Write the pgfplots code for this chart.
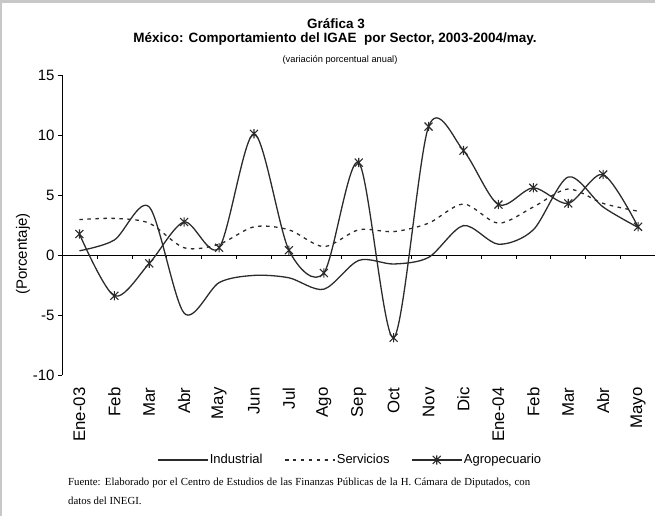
\documentclass[border=0pt]{standalone}
\usepackage{pgfplots}
\pgfplotsset{compat=1.18}
\usepackage{fontspec}
\setmainfont{Liberation Sans}
\newfontfamily\timesft{Liberation Serif}
\definecolor{linegray}{HTML}{2B2B2B}
\definecolor{framegray}{HTML}{C8C8C8}

\pgfdeclareplotmark{xstar}{%
  \pgfpathmoveto{\pgfqpoint{-\pgfplotmarksize}{-\pgfplotmarksize}}%
  \pgfpathlineto{\pgfqpoint{\pgfplotmarksize}{\pgfplotmarksize}}%
  \pgfpathmoveto{\pgfqpoint{-\pgfplotmarksize}{\pgfplotmarksize}}%
  \pgfpathlineto{\pgfqpoint{\pgfplotmarksize}{-\pgfplotmarksize}}%
  \pgfpathmoveto{\pgfqpoint{0pt}{-1.15\pgfplotmarksize}}%
  \pgfpathlineto{\pgfqpoint{0pt}{1.15\pgfplotmarksize}}%
  \pgfusepathqstroke}

\pgfplotstableread{
k  ind    serv   agro
0  0.35   2.95   1.75
1  1.25   3.05  -3.4
2  4.0    2.65  -0.7
3  -4.85  0.6    2.75
4  -2.3   0.9    0.6
5  -1.7   2.35   10.1
6  -1.9   2.1    0.4
7  -2.85  0.7   -1.5
8  -0.45  2.1    7.7
9  -0.75  1.95  -6.9
10 -0.2   2.65   10.7
11  2.45  4.25   8.7
12  0.9   2.65   4.2
13  2.1   4.0    5.6
14  6.5   5.5    4.3
15  4.0   4.3    6.7
16  2.3   3.65   2.35
}\datatable

\begin{document}
\begin{tikzpicture}[x=1pt,y=1pt]
\path[use as bounding box] (0,0) rectangle (655,516);
\fill[framegray] (0,513) rectangle (655,516);
\fill[framegray] (0,0) rectangle (2,516);

\node[anchor=base,font=\fontsize{13.5}{15}\selectfont\bfseries] at (336,516-28.5) {Gráfica 3};
\node[anchor=base,font=\fontsize{13.5}{15}\selectfont\bfseries] at (335,516-43) {México: Comportamiento del IGAE\ \ por Sector, 2003-2004/may.};
\node[anchor=base,font=\fontsize{9.3}{11}\selectfont] at (340,516-62.5) {(variación porcentual anual)};

\node[rotate=90,font=\fontsize{15}{17}\selectfont] at (23,516-254) {(Porcentaje)};

\begin{axis}[
  scale only axis,
  width=593.5pt, height=300pt,
  at={(62pt,141pt)}, anchor=south west,
  xmin=-0.5, xmax=16.5, ymin=-10, ymax=15,
  axis x line*=bottom, axis y line*=left,
  x axis line style={draw=none},
  y axis line style={-, black},
  xtick={0,...,16},
  xticklabels={Ene-03,Feb,Mar,Abr,May,Jun,Jul,Ago,Sep,Oct,Nov,Dic,Ene-04,Feb,Mar,Abr,Mayo},
  xtick style={draw=none},
  xticklabel style={rotate=90, anchor=east, font=\fontsize{16.8}{18}\selectfont, xshift=-5pt},
  ytick={-10,-5,0,5,10,15},
  yticklabel style={font=\fontsize{15}{17}\selectfont},
  tick align=outside,
  major tick length=4pt,
  ytick style={black, line width=0.6pt},
  /pgf/number format/assume math mode=true,
  legend columns=3,
  legend style={draw=none, fill=none, at={(0.485,-0.283)}, anchor=center,
    font=\fontsize{13}{15}\selectfont, nodes={inner sep=1.5pt},
    /tikz/every even column/.append style={column sep=20pt}},
  legend image code/.code={\draw[mark repeat=2,mark phase=2] plot coordinates {(0pt,0pt) (25pt,0pt) (50pt,0pt)};},
  clip=false,
]
\draw[black, line width=0.8pt] (axis cs:-0.5,0) -- (axis cs:16.5,0);
\pgfplotsinvokeforeach{0.5,1.5,...,15.5}{\draw[black, line width=0.6pt] (axis cs:#1,0) -- ++(0pt,-4pt);}
\addplot[linegray, line width=1.3pt, smooth, tension=0.5] table[x=k, y=ind] {\datatable};
\addlegendentry{Industrial}
\addplot[linegray, line width=1.3pt, smooth, tension=0.5, dash pattern=on 3.5pt off 4.5pt] table[x=k, y=serv] {\datatable};
\addlegendentry{Servicios}
\addplot[linegray, line width=1.3pt, smooth, tension=0.5, mark=xstar, mark size=4pt, mark options={solid, line width=1.1pt}] table[x=k, y=agro] {\datatable};
\addlegendentry{Agropecuario}
\end{axis}

\node[anchor=base west, text width=462pt, align=justify, inner sep=0pt,
  font=\fontsize{10.8}{18.5}\selectfont\timesft] at (68,516-486)
  {Fuente: Elaborado por el Centro de Estudios de las Finanzas Públicas de la H. Cámara de Diputados, con\linebreak datos del INEGI.};
\end{tikzpicture}
\end{document}
